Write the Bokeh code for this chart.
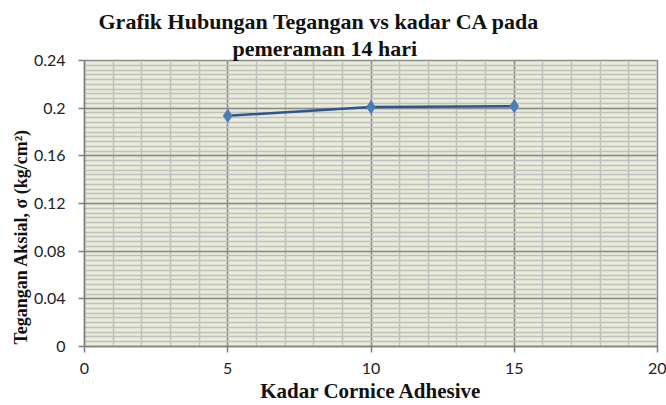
from bokeh.plotting import figure
from bokeh.models import FixedTicker, Range1d, Title
from bokeh.embed import file_html
from bokeh.resources import INLINE

# data
kadar_ca = [5, 10, 15]
tegangan = [0.1936, 0.2009, 0.2017]
x_ticks = [0, 5, 10, 15, 20]
y_ticks = [0, 0.04, 0.08, 0.12, 0.16, 0.2, 0.24]
y_tick_labels = ["0", "0.04", "0.08", "0.12", "0.16", "0.2", "0.24"]
x_minor = [i for i in range(0, 21)]
y_minor = [round(i * 0.004, 3) for i in range(0, 61)]
title_lines = ["Grafik Hubungan Tegangan vs kadar CA pada", "pemeraman 14 hari"]
x_title = "Kadar Cornice Adhesive"
y_title = "Tegangan Aksial, σ (kg/cm²)"

W, H = 666, 405
FL, FR, FT, FB = 84, 657, 60, 346  # frame edges in page pixels
p = figure(width=W, height=H, output_backend="svg", toolbar_location=None,
           x_range=Range1d(0, 20), y_range=Range1d(0, 0.24),
           min_border_left=FL, min_border_right=W - FR, min_border_top=FT,
           min_border_bottom=H - FB)

p.background_fill_color = "#E9ECD8"
p.border_fill_color = "white"
p.outline_line_color = "#8A8A8A"
p.outline_line_width = 1.5

p.xaxis.ticker = FixedTicker(ticks=x_ticks, minor_ticks=x_minor)
p.yaxis.ticker = FixedTicker(ticks=y_ticks, minor_ticks=y_minor)
p.yaxis.major_label_overrides = {t: l for t, l in zip(y_ticks, y_tick_labels)}
p.xaxis.major_label_overrides = {t: str(t) for t in x_ticks}

for ax in (p.xaxis, p.yaxis):
    ax.axis_line_color = "#808080"
    ax.axis_line_width = 1.5
    ax.major_tick_line_color = "#808080"
    ax.major_tick_line_width = 1.5
    ax.major_tick_out = 6
    ax.major_tick_in = 0
    ax.minor_tick_line_color = None
    ax.major_label_text_font = "Lato"
    ax.major_label_text_font_size = "16px"
    ax.major_label_text_color = "#222222"

p.xaxis.major_label_standoff = 10
p.yaxis.major_label_standoff = 13
p.xaxis.axis_label = x_title
p.xaxis.axis_label_text_font = "Liberation Serif"
p.xaxis.axis_label_text_font_style = "bold"
p.xaxis.axis_label_text_font_size = "21px"
p.xaxis.axis_label_text_color = "#111111"
p.xaxis.axis_label_standoff = 2

p.xgrid.grid_line_color = "#8C8C8C"
p.xgrid.grid_line_width = 1.5
p.ygrid.grid_line_color = "#8C8C8C"
p.ygrid.grid_line_width = 1.5
p.xgrid.minor_grid_line_color = "#C0C0C0"
p.xgrid.minor_grid_line_width = 1.5
p.ygrid.minor_grid_line_color = "#C0C0C0"
p.ygrid.minor_grid_line_width = 1.5

p.line(kadar_ca, tegangan, line_color="#2B5590", line_width=2.5)
p.scatter(kadar_ca, tegangan, marker="diamond", size=13, fill_color="#4A7EBB",
          line_color="#4A7EBB")

serif = dict(text_font="Liberation Serif", text_font_style="bold", text_color="#111111",
             align="left", standoff=0)
# offsets measured from the frame's left edge (above) / bottom edge (left)
p.add_layout(Title(text=title_lines[1], text_font_size="22px",
                   offset=232 - FL, **serif), "above")
p.add_layout(Title(text=title_lines[0], text_font_size="22px",
                   offset=98 - FL, **serif), "above")
p.add_layout(Title(text=y_title, text_font_size="18px",
                   offset=FB - 344, **serif), "left")

open("out.html", "w").write(file_html(p, INLINE))
